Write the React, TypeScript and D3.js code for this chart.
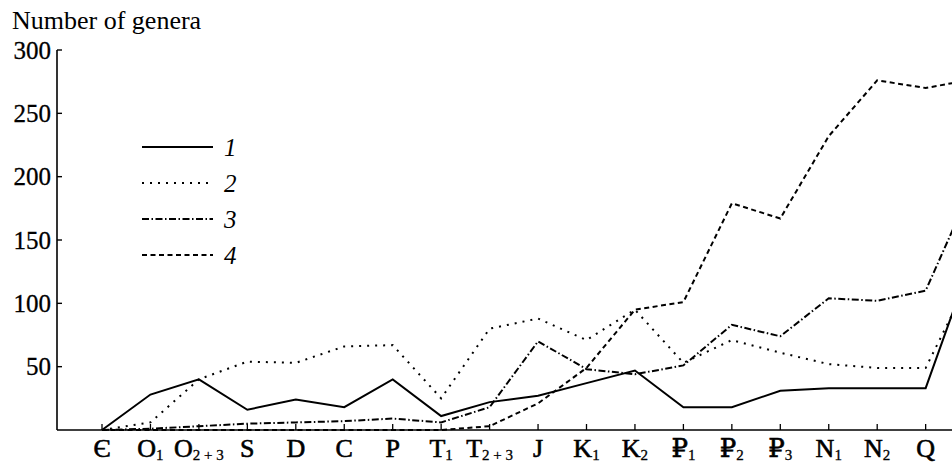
import React from 'react';
import { scalePoint, scaleLinear, line } from 'd3';

const width = 952;
const height = 464;
const margins = { top: 50, bottom: 34, left: 57, right: 0 };

// stage symbols: main letter + subscript (last one lies past the crop)
const stageMain = ['Є', 'O', 'O', 'S', 'D', 'C', 'P', 'T', 'T', 'J', 'K', 'K', '₽', '₽', '₽', 'N', 'N', 'Q', ''];
const stageSub = ['', '1', '2 + 3', '', '', '', '', '1', '2 + 3', '', '1', '2', '1', '2', '3', '1', '2', '', ''];
const stageKeys = stageMain.map((s, i) => s + stageSub[i] + i);

const yTicks = [50, 100, 150, 200, 250, 300];

const series1 = [0, 28, 40, 16, 24, 18, 40, 11, 22, 27, 37, 47, 18, 18, 31, 33, 33, 33, 140];
const series2 = [0, 6, 40, 54, 53, 66, 67, 25, 80, 88, 71, 95, 53, 71, 61, 52, 49, 49, 126];
const series3 = [0, 1, 3, 5, 6, 7, 9, 6, 18, 70, 48, 44, 51, 83, 74, 104, 102, 110, 196];
const series4 = [0, 0, 0, 0, 0, 0, 0, 0, 3, 21, 49, 95, 101, 179, 167, 232, 276, 270, 277];

const legendNames = ['1', '2', '3', '4'];
const dashes = ['none', '2,6', '7,2.5,1.5,2.5', '5,3.5'];

const font = '"Liberation Serif", "DejaVu Serif", serif';

export default function App() {
  const x = scalePoint<string>()
    .domain(stageKeys)
    .range([102, 102 + 18 * 48.45]);

  const y = scaleLinear()
    .domain([0, 300])
    .range([height - margins.bottom, margins.top]);

  const path = line<number>()
    .x((d, i) => x(stageKeys[i]) as number)
    .y((d) => y(d));

  const allSeries = [series1, series2, series3, series4];
  const baseY = y(0);

  return (
    <svg width={width} height={height} style={{ position: 'absolute', left: 0, top: 0, background: '#fff' }}>
      <text x={12} y={29} fontFamily={font} fontSize={26} fill="#000">Number of genera</text>

      {/* y axis */}
      <line x1={margins.left} x2={margins.left} y1={y(300)} y2={baseY} stroke="#000" strokeWidth={1.6} />
      {yTicks.map((t) => (
        <g key={t}>
          <line x1={margins.left} x2={margins.left + 5} y1={y(t)} y2={y(t)} stroke="#000" strokeWidth={1.4} />
          <text x={margins.left - 6} y={y(t)} dy="0.35em" textAnchor="end" fontFamily={font} fontSize={25}
            fill="#000" stroke="#000" strokeWidth={0.3}>{t}</text>
        </g>
      ))}

      {/* x axis */}
      <line x1={margins.left} x2={width} y1={baseY} y2={baseY} stroke="#000" strokeWidth={1.6} />
      {stageKeys.slice(0, 18).map((k, i) => (
        <g key={k} transform={`translate(${x(k)},0)`}>
          <line y1={baseY} y2={baseY - 6} stroke="#000" strokeWidth={1.3} />
          <text y={457} textAnchor="middle" fontFamily={font} fontSize={26} fill="#000" stroke="#000" strokeWidth={0.6}>
            {stageMain[i]}
            {stageSub[i] && <tspan fontSize={15} dy={3} strokeWidth={0.3}>{stageSub[i]}</tspan>}
          </text>
        </g>
      ))}

      {/* series */}
      {allSeries.map((s, i) => (
        <path key={i} d={path(s) || ''} fill="none" stroke="#000" strokeWidth={2}
          strokeDasharray={dashes[i]} strokeLinejoin="miter" />
      ))}

      {/* legend */}
      {legendNames.map((n, i) => (
        <g key={n} transform={`translate(0,${147 + i * 36})`}>
          <line x1={142} x2={213} y1={0} y2={0} stroke="#000" strokeWidth={2} strokeDasharray={dashes[i]} />
          <text x={224} y={0} dy="0.35em" fontFamily={font} fontStyle="italic" fontSize={25} fill="#000">{n}</text>
        </g>
      ))}
    </svg>
  );
}
